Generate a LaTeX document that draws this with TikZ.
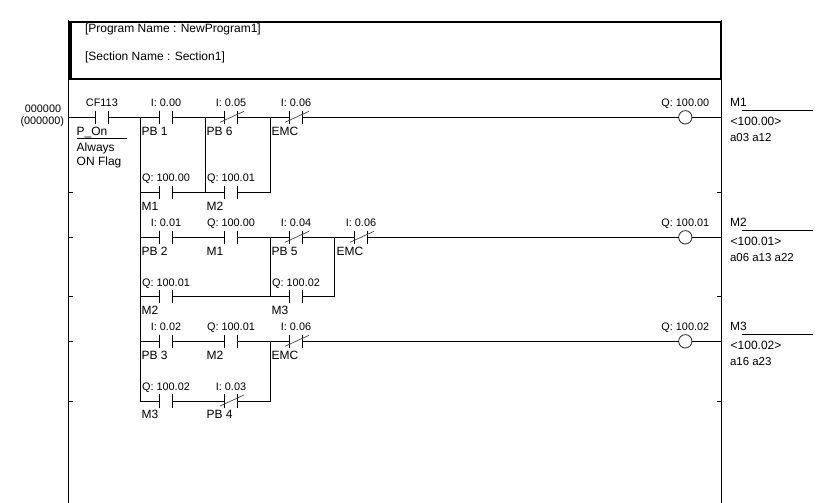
\documentclass[tikz,border=0pt]{standalone}
\usepackage{fontspec}
\setmainfont{Liberation Sans}
\usetikzlibrary{calc}
\tikzset{
  px/.style={x=0.75pt,y=-0.75pt},
  wire/.style={draw=black,line width=0.75pt},
  rail/.style={draw=black,line width=0.85pt},
  frame/.style={draw=black,line width=1.9pt},
  bar/.style={draw=black,line width=0.8pt},
  slash/.style={draw=black!75,line width=0.5pt},
  contactbox/.style={inner sep=0pt,outer sep=0pt,minimum width=9.4pt,minimum height=10pt},
  coilbox/.style={circle,draw=black!80,line width=0.65pt,inner sep=0pt,outer sep=0pt,minimum size=10pt},
  lbl/.style={inner sep=0pt,outer sep=0pt,font=\fontsize{8.15}{10}\selectfont,text=black},
  lblbig/.style={inner sep=0pt,outer sep=0pt,font=\fontsize{9}{10}\selectfont,text=black},
  lblref/.style={inner sep=0pt,outer sep=0pt,font=\fontsize{8.6}{10}\selectfont,text=black},
}
% name, x, y, top text, bottom text
\newcommand{\contactNO}[5]{%
  \node[contactbox] (#1) at (#2,#3) {};
  \draw[bar] (#1.north west) -- (#1.south west) (#1.north east) -- (#1.south east);
  \node[lbl,anchor=base] (#1top) at ($(#1)+(0,-10.6)$) {#4};
  \node[lblbig,anchor=base west] (#1bot) at ($(#1)+(-24.4,17.7)$) {#5};
}
\newcommand{\contactNC}[5]{%
  \contactNO{#1}{#2}{#3}{#4}{#5}
  \draw[slash] ($(#1)+(-11,5)$) -- ($(#1)+(13,-6)$);
}
% name, x, y, top text
\newcommand{\coilnode}[4]{%
  \node[coilbox] (#1) at (#2,#3) {};
  \node[lbl,anchor=base] (#1top) at ($(#1)+(0,-10.6)$) {#4};
}
% name, rung y, M text, address, cross refs
\newcommand{\outlabel}[5]{%
  \node[lblbig,anchor=base west] (#1m) at (730,#2-10.6) {#3};
  \coordinate (#1a) at (742,#2-6.6);
  \coordinate (#1b) at (813,#2-6.6);
  \draw[wire] (#1a) -- (#1b);
  \node[lblbig,anchor=base west] (#1addr) at (730.7,#2+8.4) {<#4>};
  \node[lblref,anchor=base west] (#1refs) at (730,#2+24.4) {#5};
}
\begin{document}
\begin{tikzpicture}[px]
\useasboundingbox (0,0) rectangle (828,503);
% frame and rails
\coordinate (LT) at (68.4,20);
\coordinate (LB) at (68.4,503);
\coordinate (RT) at (721.3,20);
\coordinate (RB) at (721.3,503);
\draw[rail] (LT) -- (LB);
\draw[rail] (RT) -- (RB);
\coordinate (F1) at (70.4,22);
\coordinate (F2) at (721,79);
\draw[frame] (F1) rectangle (F2);
\node[lblbig,anchor=base west] (prog) at (85,33) {[Program Name : NewProgram1]};
\node[lblbig,anchor=base west] (sect) at (85,61) {[Section Name : Section1]};
% rung number
\node[lbl,anchor=base] (rn) at (43,112.7) {000000};
\node[lbl,anchor=base east] (rm) at (64,124) {(000000)};
% ticks
\foreach \n/\yy in {a/192.3,b/237.3,c/296.7,d/341.3,e/401}{
  \coordinate (tl\n) at (68.4,\yy);
  \coordinate (tm\n) at (73,\yy);
  \draw[wire] (tl\n) -- (tm\n);
}
\foreach \n/\yy in {a/192.3,c/296.7,e/401}{
  \coordinate (tr\n) at (721.3,\yy);
  \coordinate (ts\n) at (717,\yy);
  \draw[wire] (tr\n) -- (ts\n);
}
% rung 1
\coordinate (r1L) at (68.4,117.3);
\coordinate (r1R) at (721.3,117.3);
\coordinate (j1a) at (140.5,117.3);
\coordinate (j1b) at (205,117.3);
\coordinate (j1c) at (270.2,117.3);
\coordinate (k1a) at (140.5,192.3);
\coordinate (k1b) at (205,192.3);
\coordinate (k1c) at (270.2,192.3);
\contactNO{cf}{101.9}{117.3}{CF113}{}
\node[lblbig,anchor=base west] (pon) at (76.7,135) {P\_On};
\coordinate (ponA) at (76.7,138.3);
\coordinate (ponB) at (126.7,138.3);
\draw[wire] (ponA) -- (ponB);
\node[lblbig,anchor=base west] (alw) at (76.7,151) {Always};
\node[lblbig,anchor=base west] (onf) at (76.7,165.3) {ON Flag};
\contactNO{a1}{166}{117.3}{I: 0.00}{PB 1}
\contactNC{a2}{231}{117.3}{I: 0.05}{PB 6}
\contactNC{a3}{296}{117.3}{I: 0.06}{EMC}
\contactNO{a4}{166}{192.3}{Q: 100.00}{M1}
\contactNO{a5}{231}{192.3}{Q: 100.01}{M2}
\coilnode{q1}{685.3}{117.3}{Q: 100.00}
\draw[wire] (r1L) -- (cf) (cf) -- (j1a) -- (a1) (a1) -- (j1b) -- (a2) (a2) -- (j1c) -- (a3) (a3) -- (q1) (q1) -- (r1R);
\draw[wire] (j1a) -- (k1a) -- (a4) (a4) -- (k1b) -- (a5) (a5) -- (k1c) -- (j1c);
\draw[wire] (j1b) -- (k1b);
\outlabel{o1}{117.3}{M1}{100.00}{a03 a12}
% rung 2
\coordinate (r2R) at (721.3,237.3);
\coordinate (j2a) at (140.5,237.3);
\coordinate (j2c) at (270.2,237.3);
\coordinate (j2d) at (334.3,237.3);
\coordinate (k2a) at (140.5,296.7);
\coordinate (k2c) at (270.2,296.7);
\coordinate (k2d) at (334.3,296.7);
\contactNO{b1}{166}{237.3}{I: 0.01}{PB 2}
\contactNO{b2}{231}{237.3}{Q: 100.00}{M1}
\contactNC{b3}{296}{237.3}{I: 0.04}{PB 5}
\contactNC{b4}{361}{237.3}{I: 0.06}{EMC}
\contactNO{b5}{166}{296.7}{Q: 100.01}{M2}
\contactNO{b6}{296}{296.7}{Q: 100.02}{M3}
\coilnode{q2}{685.3}{237.3}{Q: 100.01}
\draw[wire] (k1a) -- (j2a) -- (b1) (b1) -- (b2) (b2) -- (j2c) -- (b3) (b3) -- (j2d) -- (b4) (b4) -- (q2) (q2) -- (r2R);
\draw[wire] (j2a) -- (k2a) -- (b5) (b5) -- (k2c) -- (b6) (b6) -- (k2d) -- (j2d);
\draw[wire] (j2c) -- (k2c);
\outlabel{o2}{237.3}{M2}{100.01}{a06 a13 a22}
% rung 3
\coordinate (r3R) at (721.3,341.3);
\coordinate (j3a) at (140.5,341.3);
\coordinate (j3c) at (270.2,341.3);
\coordinate (k3a) at (140.5,401);
\coordinate (k3c) at (270.2,401);
\contactNO{d1}{166}{341.3}{I: 0.02}{PB 3}
\contactNO{d2}{231}{341.3}{Q: 100.01}{M2}
\contactNC{d3}{296}{341.3}{I: 0.06}{EMC}
\contactNO{d4}{166}{401}{Q: 100.02}{M3}
\contactNC{d5}{231}{401}{I: 0.03}{PB 4}
\coilnode{q3}{685.3}{341.3}{Q: 100.02}
\draw[wire] (k2a) -- (j3a) -- (d1) (d1) -- (d2) (d2) -- (j3c) -- (d3) (d3) -- (q3) (q3) -- (r3R);
\draw[wire] (j3a) -- (k3a) -- (d4) (d4) -- (d5) (d5) -- (k3c) -- (j3c);
\outlabel{o3}{341.3}{M3}{100.02}{a16 a23}
\end{tikzpicture}
\end{document}
